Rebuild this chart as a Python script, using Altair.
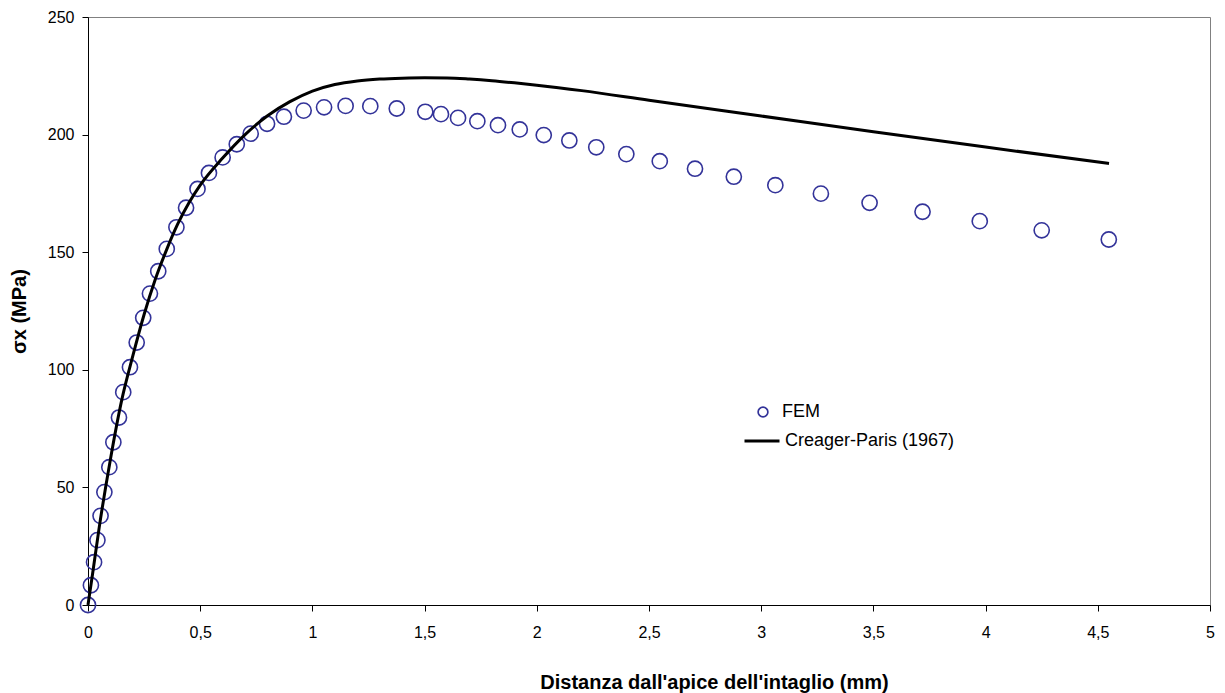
import altair as alt
import pandas as pd

# FEM results
fem_x = [0, 0.013, 0.027, 0.042, 0.056, 0.073, 0.095, 0.113, 0.138, 0.157,
         0.187, 0.217, 0.246, 0.276, 0.313, 0.351, 0.394, 0.437, 0.488, 0.539,
         0.600, 0.663, 0.725, 0.798, 0.873, 0.961, 1.052, 1.148, 1.258, 1.376,
         1.503, 1.573, 1.649, 1.735, 1.827, 1.924, 2.031, 2.145, 2.265, 2.399,
         2.548, 2.705, 2.878, 3.063, 3.266, 3.483, 3.719, 3.974, 4.250, 4.549]
fem_y = [0, 8.4, 18.2, 27.6, 37.9, 48.0, 58.6, 69.2, 79.7, 90.5,
         101.1, 111.6, 122.1, 132.4, 141.9, 151.4, 160.6, 168.9, 176.9, 183.7,
         190.3, 195.9, 200.4, 204.6, 207.6, 210.2, 211.6, 212.2, 212.1, 211.1,
         209.7, 208.7, 207.1, 205.7, 204.0, 202.2, 199.8, 197.5, 194.6, 191.7,
         188.7, 185.5, 182.1, 178.5, 174.9, 171.0, 167.2, 163.2, 159.3, 155.4]

# Creager-Paris (1967) curve
cp_x = [0, 0.02, 0.05, 0.1, 0.15, 0.2, 0.25, 0.3, 0.35, 0.4, 0.45, 0.5,
        0.6, 0.7, 0.8, 0.9, 1.0, 1.1, 1.2, 1.3, 1.4, 1.5, 1.6, 1.7, 1.8,
        1.9, 2.0, 2.2, 2.5, 3.0, 3.5, 4.0, 4.55]
cp_y = [0, 13, 33, 62, 87, 106, 123.5, 138.5, 151, 162, 171, 178.5,
        190, 200, 208, 214, 218.5, 221.3, 222.8, 223.6, 224, 224.2, 224.1,
        223.6, 222.9, 222, 221, 218.7, 214.6, 207.9, 201.2, 194.7, 187.7]

x_ticks = [0, 0.5, 1, 1.5, 2, 2.5, 3, 3.5, 4, 4.5, 5]
y_ticks = [0, 50, 100, 150, 200, 250]

fem = pd.DataFrame({"x": fem_x, "y": fem_y, "series": "FEM"})
cp = pd.DataFrame({"x": cp_x, "y": cp_y, "series": "Creager-Paris (1967)"})

FONT = "Liberation Sans"

xenc = alt.X("x:Q",
             scale=alt.Scale(domain=[0, 5], nice=False),
             axis=alt.Axis(values=x_ticks, title="Distanza dall'apice dell'intaglio (mm)",
                           labelExpr="replace(toString(datum.value), '.', ',')",
                           labelFlush=False, labelPadding=13, titleX=626, titleY=83,
                           titleBaseline="alphabetic", titleAlign="center"))
yenc = alt.Y("y:Q",
             scale=alt.Scale(domain=[0, 250], nice=False),
             axis=alt.Axis(values=y_ticks, title="σx (MPa)", labelPadding=8,
                           labelFlush=False, titleX=-63, titleBaseline="alphabetic"))

points = alt.Chart(fem).mark_point(
    shape="circle", filled=False, size=230, strokeWidth=1.6, opacity=1
).encode(
    x=xenc, y=yenc,
    color=alt.Color("series:N",
                    scale=alt.Scale(domain=["FEM"], range=["#333399"]),
                    legend=alt.Legend(orient="none", legendX=666, legendY=386,
                                      title=None, symbolType="circle", symbolSize=95,
                                      symbolStrokeWidth=1.7, labelOffset=10, padding=0,
                                      symbolOpacity=1, labelLimit=400,
                                      labelFont=FONT, labelFontSize=18, labelColor="black"))
)

line = alt.Chart(cp).mark_line(strokeWidth=3, interpolate="monotone").encode(
    x=xenc, y=yenc,
    color=alt.Color("series:N",
                    scale=alt.Scale(domain=["Creager-Paris (1967)"], range=["black"]),
                    legend=alt.Legend(orient="none", legendX=655, legendY=405,
                                      title=None, symbolType="stroke", symbolSize=1225,
                                      symbolStrokeWidth=3, labelOffset=4, padding=0,
                                      labelLimit=400,
                                      labelFont=FONT, labelFontSize=18, labelColor="black"))
)

chart = alt.layer(points, line).resolve_scale(color="independent").properties(
    width=1122, height=588,
    autosize=alt.AutoSizeParams(type="none"),
    padding={"left": 88, "top": 17, "right": 15, "bottom": 88},
    background="white",
).configure_view(
    stroke="#808080", strokeWidth=1
).configure_axis(
    grid=False, domainColor="black", domainWidth=1, tickColor="black", tickSize=6,
    labelFont=FONT, labelFontSize=16, labelColor="black",
    titleFont=FONT, titleFontSize=20, titleFontWeight="bold", titleColor="black"
)

chart.save("out.html", embed_options={"renderer": "svg", "actions": False})
